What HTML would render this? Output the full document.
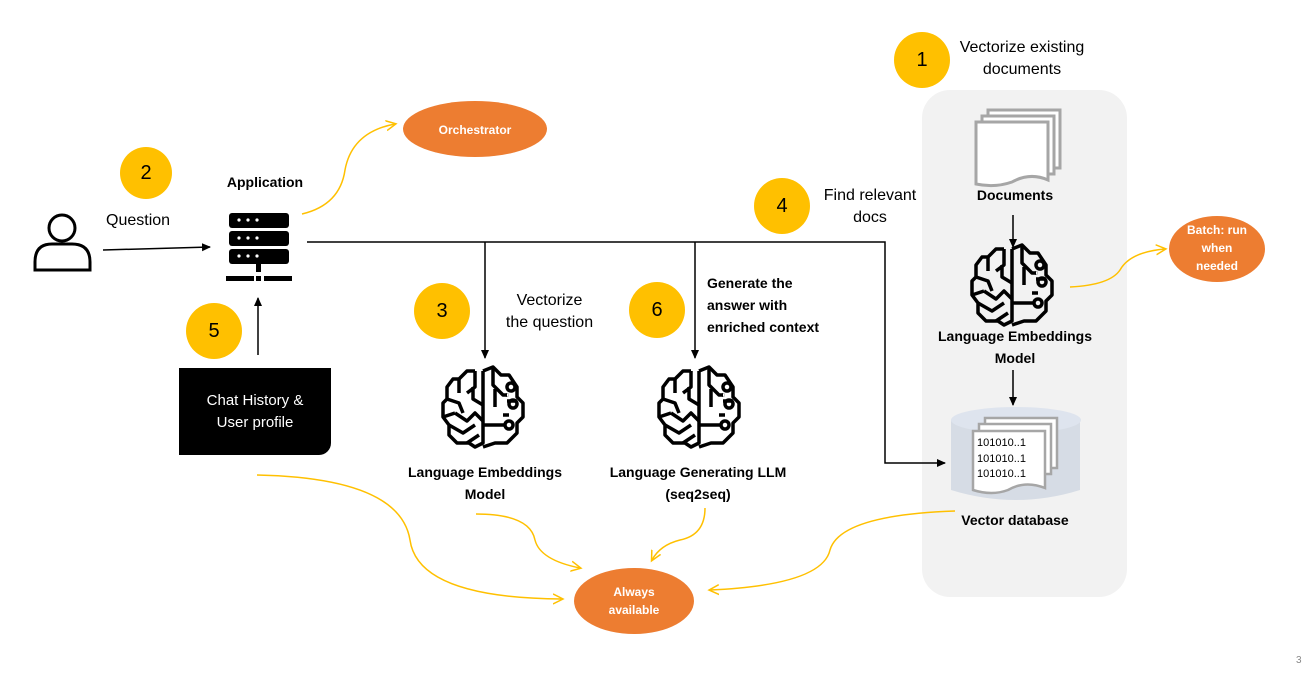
<!DOCTYPE html>
<html><head><style>
body{margin:0;background:#fff;width:1304px;height:686px;overflow:hidden;position:relative;font-family:"Liberation Sans",sans-serif}
.t{position:absolute;font-size:16px;color:#000;text-align:center;line-height:22px}
.b{font-weight:bold;font-size:14px;line-height:22px}
</style></head><body>
<svg width="1304" height="686" style="position:absolute;left:0;top:0">
<defs>
<marker id="a" markerWidth="10" markerHeight="10" refX="8" refY="5" orient="auto" markerUnits="userSpaceOnUse"><path d="M0,1 L9,5 L0,9z" fill="#000"/></marker>
<marker id="y" markerWidth="12" markerHeight="12" refX="9" refY="6" orient="auto" markerUnits="userSpaceOnUse"><path d="M0,1 L10,6 L0,11" fill="none" stroke="#FFC000" stroke-width="1.5"/></marker>
<g id="brain" fill="none" stroke="#000" stroke-width="3.5" stroke-linejoin="round">
<path d="M-8,-36 L-16,-36 L-24,-28 L-30,-28 L-36,-20 L-36,-8 L-40,-4 L-40,10 L-34,18 L-34,28 L-26,36 L-14,36 L-8,40 L0,36 L0,-36 M0,-36 L10,-40 L18,-32 L26,-32 L34,-20 L34,-10 L40,-4 L40,10 L34,16 L34,26 L24,36 L12,36 L0,40"/>
<path d="M-8,-36 L-8,-20 L-16,-14 M-24,-28 L-24,-14 M-36,-8 L-24,-4 L-20,6 M-40,10 L-28,6 M-28,6 L-16,14 L-8,6 L0,14 M-34,18 L-20,26 L-8,18 M-16,36 L-4,28 M0,-2 L-10,-8 L-10,-20"/>
<path d="M10,-40 L10,-22 L20,-12 L24,-12 M12,-18 L12,0 M20,8 L26,8 M24,-6 L34,-6 M12,18 L22,18 M0,18 L12,18"/>
<circle cx="28" cy="-20" r="4"/><circle cx="30" cy="-3" r="4"/><circle cx="26" cy="18" r="4"/><circle cx="24" cy="-12" r="0.1"/>
</g>
</defs>
<rect x="922" y="90" width="205" height="507" rx="28" fill="#F2F2F2"/>
<!-- yellow circles -->
<g fill="#FFC000"><circle cx="146" cy="173" r="26"/><circle cx="442" cy="311" r="28"/><circle cx="657" cy="310" r="28"/><circle cx="214" cy="331" r="28"/><circle cx="782" cy="206" r="28"/><circle cx="922" cy="60" r="28"/></g>
<!-- orange ellipses -->
<g fill="#ED7D31"><ellipse cx="475" cy="129" rx="72" ry="28"/><ellipse cx="1217" cy="249" rx="48" ry="33"/><ellipse cx="634" cy="601" rx="60" ry="33"/></g>
<!-- person -->
<g fill="none" stroke="#000" stroke-width="3"><circle cx="62" cy="228" r="13"/><path d="M35,270 L35,262 Q35,244 52,244 L72,244 Q90,244 90,262 L90,270 Z"/></g>
<!-- server -->
<g fill="#000"><rect x="229" y="213" width="60" height="15" rx="3"/><rect x="229" y="231" width="60" height="15" rx="3"/><rect x="229" y="249" width="60" height="15" rx="3"/>
<rect x="256" y="264" width="5" height="8"/><rect x="226" y="276" width="28" height="5"/><rect x="256" y="276" width="5" height="5"/><rect x="264" y="276" width="28" height="5"/></g>
<g fill="#fff"><circle cx="239" cy="220" r="1.6"/><circle cx="248" cy="220" r="1.6"/><circle cx="257" cy="220" r="1.6"/><circle cx="239" cy="238" r="1.6"/><circle cx="248" cy="238" r="1.6"/><circle cx="257" cy="238" r="1.6"/><circle cx="239" cy="256" r="1.6"/><circle cx="248" cy="256" r="1.6"/><circle cx="257" cy="256" r="1.6"/></g>
<!-- black lines -->
<g stroke="#000" stroke-width="1.5" fill="none">
<path d="M103,250 L210,247" marker-end="url(#a)"/>
<path d="M258,355 L258,298" marker-end="url(#a)"/>
<path d="M307,242 L885,242 L885,463 L945,463" marker-end="url(#a)"/>
<path d="M485,242 L485,358" marker-end="url(#a)"/>
<path d="M695,242 L695,358" marker-end="url(#a)"/>
<path d="M1013,215 L1013,247" marker-end="url(#a)"/>
<path d="M1013,370 L1013,405" marker-end="url(#a)"/>
</g>
<!-- yellow curves -->
<g stroke="#FFC000" stroke-width="1.5" fill="none">
<path d="M302,214 Q340,205 345,170 Q352,132 395,124" marker-end="url(#y)"/>
<path d="M1070,287 Q1110,285 1120,270 Q1130,252 1165,249" marker-end="url(#y)"/>
<path d="M257,475 Q400,478 410,540 Q418,598 562,599" marker-end="url(#y)"/>
<path d="M476,514 Q530,514 535,540 Q540,560 580,568" marker-end="url(#y)"/>
<path d="M705,508 Q705,535 680,540 Q660,545 652,560" marker-end="url(#y)"/>
<path d="M955,511 Q840,515 830,550 Q822,585 710,590" marker-end="url(#y)"/>
</g>
<!-- documents -->
<g fill="#fff" stroke="#A6A6A6" stroke-width="3"><path d="M988,110 L1060,110 L1060,168 L988,168Z"/><path d="M982,116 L1054,116 L1054,174 L982,174Z"/><path d="M976,122 L1048,122 L1048,180 Q1030,172 1012,182 Q995,188 976,184Z"/></g>
<!-- vector db -->
<path d="M951,420 L951,490 Q1016,510 1080,490 L1080,420Z" fill="#D6DCE5"/>
<ellipse cx="1016" cy="420" rx="65" ry="13" fill="#DEE4EE"/>
<g fill="#fff" stroke="#A6A6A6" stroke-width="2.5"><path d="M985,418 L1057,418 L1057,468 L985,468Z"/><path d="M979,424 L1051,424 L1051,474 L979,474Z"/><path d="M973,431 L1045,431 L1045,488 Q1025,480 1008,490 Q992,496 973,490Z"/></g>
<g font-family="Liberation Sans" font-size="11" fill="#000"><text x="977" y="446">101010..1</text><text x="977" y="462">101010..1</text><text x="977" y="477">101010..1</text></g>
<use href="#brain" x="483" y="407"/>
<use href="#brain" x="699" y="407"/>
<use href="#brain" x="1012" y="285"/>
</svg>
<div style="position:absolute;left:179px;top:368px;width:152px;height:87px;background:#000;border-radius:0 0 12px 0"></div>
<div class="t" style="left:179px;top:390px;width:152px;color:#fff;font-size:15px">Chat History &amp;<br>User profile</div>
<div class="t" style="left:120px;top:162px;width:52px;font-size:20px">2</div>
<div class="t" style="left:416px;top:300px;width:52px;font-size:20px">3</div>
<div class="t" style="left:631px;top:299px;width:52px;font-size:20px">6</div>
<div class="t" style="left:188px;top:320px;width:52px;font-size:20px">5</div>
<div class="t" style="left:756px;top:195px;width:52px;font-size:20px">4</div>
<div class="t" style="left:896px;top:49px;width:52px;font-size:20px">1</div>
<div class="t" style="left:106px;top:210px">Question</div>
<div class="t b" style="left:210px;top:171px;width:110px">Application</div>
<div class="t" style="left:952px;top:37px;width:140px">Vectorize existing<br>documents</div>
<div class="t" style="left:805px;top:185px;width:130px">Find relevant<br>docs</div>
<div class="t" style="left:492px;top:290px;width:115px">Vectorize<br>the question</div>
<div class="t b" style="left:707px;top:272px;text-align:left">Generate the<br>answer with<br>enriched context</div>
<div class="t b" style="left:390px;top:461px;width:190px">Language Embeddings<br>Model</div>
<div class="t b" style="left:598px;top:461px;width:200px">Language Generating LLM<br>(seq2seq)</div>
<div class="t b" style="left:920px;top:325px;width:190px">Language Embeddings<br>Model</div>
<div class="t b" style="left:955px;top:184px;width:120px">Documents</div>
<div class="t b" style="left:945px;top:509px;width:140px">Vector database</div>
<div class="t b" style="left:403px;top:119px;width:144px;color:#fff;font-size:12px">Orchestrator</div>
<div class="t b" style="left:1169px;top:221px;width:96px;color:#fff;font-size:12px;line-height:18px">Batch: run<br>when<br>needed</div>
<div class="t b" style="left:574px;top:583px;width:120px;color:#fff;font-size:12px;line-height:18px">Always<br>available</div>
<div class="t" style="left:1296px;top:650px;font-size:10px;color:#888">3</div>
</body></html>
